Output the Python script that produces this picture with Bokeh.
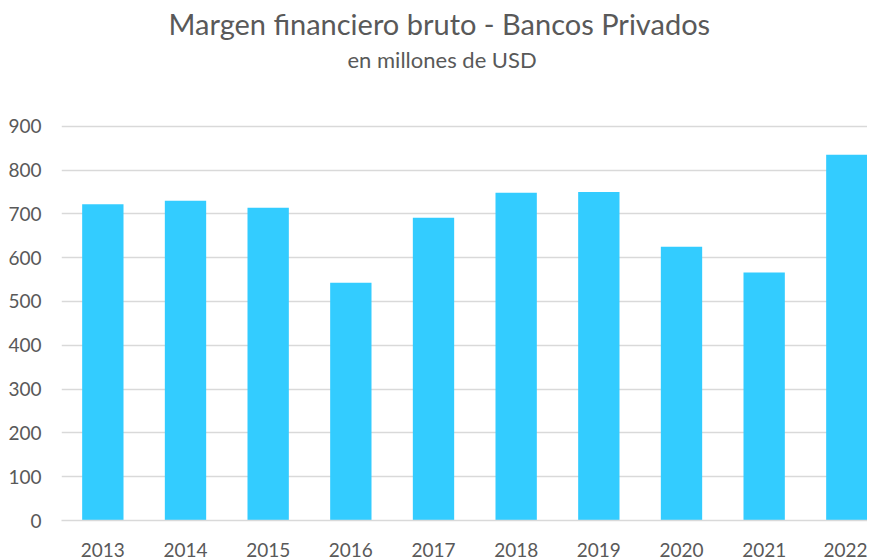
from bokeh.plotting import figure
from bokeh.models import Range1d, FixedTicker, Title
from bokeh.embed import file_html
from bokeh.resources import INLINE

years = ["2013", "2014", "2015", "2016", "2017", "2018", "2019", "2020", "2021", "2022"]
values = [722, 730, 714, 543, 691, 748, 750, 625, 566, 835]
y_ticks = [0, 100, 200, 300, 400, 500, 600, 700, 800, 900]

xs = list(range(len(years)))

FONT = "Lato"
GRAY = "#595959"

p = figure(width=867, height=559, output_backend="svg", toolbar_location=None,
           x_range=Range1d(-0.5, 9.25), y_range=Range1d(0, 920),
           min_border_left=61, min_border_right=0, min_border_bottom=39,
           min_border_top=0)

p.title.text = "Margen financiero bruto - Bancos Privados"
p.title.align = "left"
p.title.offset = 107
p.title.text_font = FONT
p.title.text_font_size = "29px"
p.title.text_font_style = "normal"
p.title.text_color = GRAY
p.title.standoff = 6

# spacer between subtitle and plot area (nearest to the frame)
p.add_layout(Title(text=" ", text_font_size="1px", standoff=41), "above")
p.add_layout(Title(text="en millones de USD", align="left", offset=286,
                   text_font=FONT, text_font_size="22px", text_font_style="normal",
                   text_color=GRAY, standoff=1), "above")

p.vbar(x=xs, top=values, width=0.5, color="#33CCFF", line_color=None)

p.outline_line_color = None
p.background_fill_color = "white"
p.border_fill_color = "white"

p.xgrid.grid_line_color = None
p.ygrid.grid_line_color = "#D9D9D9"
p.ygrid.grid_line_width = 1.5
p.ygrid.ticker = FixedTicker(ticks=y_ticks)

p.yaxis.ticker = FixedTicker(ticks=y_ticks)
p.yaxis.axis_line_color = None
p.yaxis.major_tick_line_color = None
p.yaxis.minor_tick_line_color = None
p.yaxis.major_label_text_font = FONT
p.yaxis.major_label_text_font_size = "19px"
p.yaxis.major_label_text_color = GRAY
p.yaxis.major_label_standoff = 14

p.xaxis.ticker = FixedTicker(ticks=xs)
p.xaxis.major_label_overrides = {i: y for i, y in zip(xs, years)}
p.xaxis.axis_line_color = "#D9D9D9"
p.xaxis.axis_line_width = 1.5
p.xaxis.major_tick_line_color = None
p.xaxis.minor_tick_line_color = None
p.xaxis.major_label_text_font = FONT
p.xaxis.major_label_text_font_size = "19px"
p.xaxis.major_label_text_color = GRAY
p.xaxis.major_label_standoff = 16

open("out.html", "w").write(file_html(p, INLINE))
